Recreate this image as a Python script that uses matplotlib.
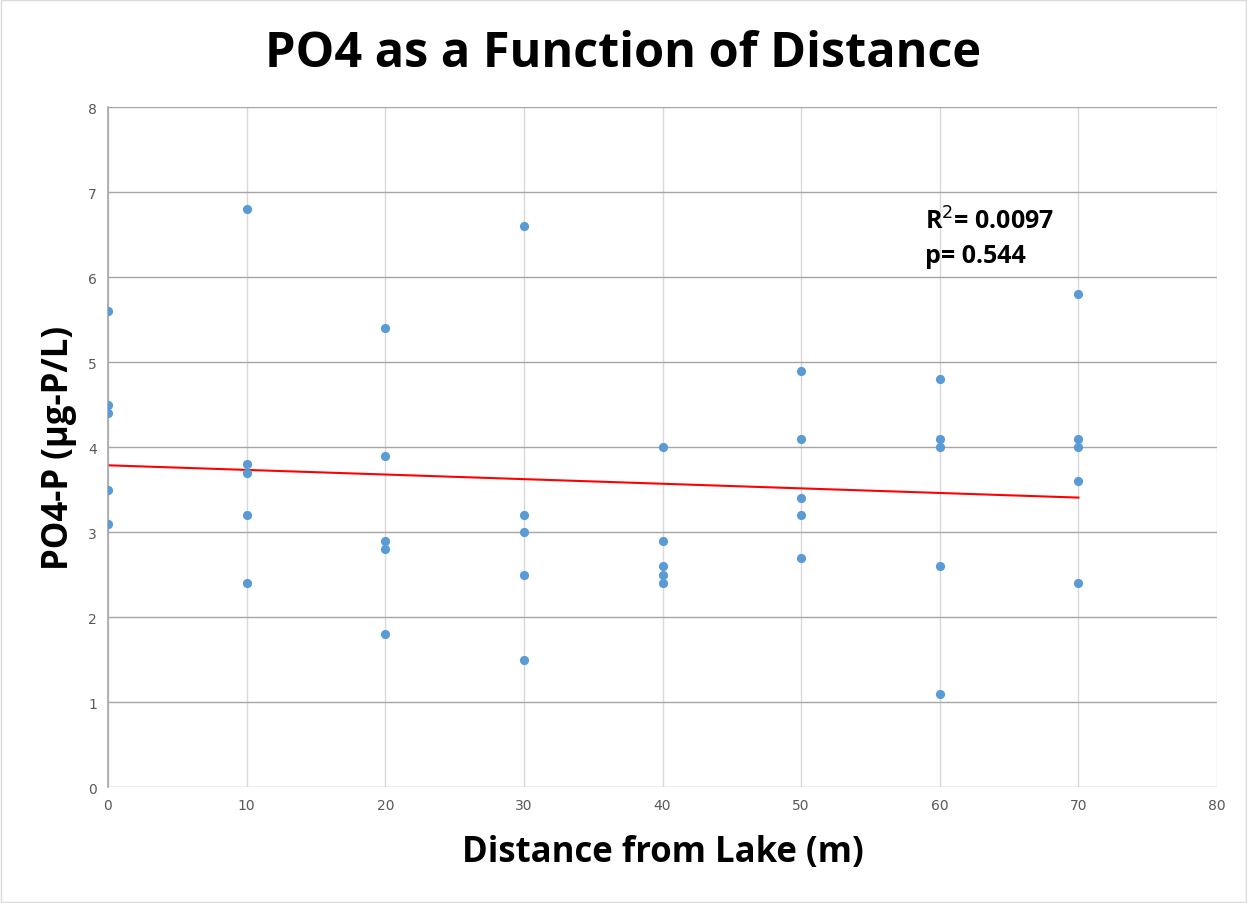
import matplotlib.pyplot as plt
import numpy as np

# distance from lake (m), five samples per site
distance = [0]*5 + [10]*5 + [20]*5 + [30]*5 + [40]*5 + [50]*5 + [60]*5 + [70]*5
po4 = [5.6, 4.5, 4.4, 3.5, 3.1,
       6.8, 3.8, 3.7, 3.2, 2.4,
       5.4, 3.9, 2.9, 2.8, 1.8,
       6.6, 3.2, 3.0, 2.5, 1.5,
       4.0, 2.9, 2.6, 2.5, 2.4,
       4.9, 4.1, 3.4, 3.2, 2.7,
       4.8, 4.1, 4.0, 2.6, 1.1,
       5.8, 4.1, 4.0, 3.6, 2.4]
x_ticks = np.arange(0, 81, 10)
y_ticks = np.arange(0, 9, 1)

fit = np.polyfit(distance, po4, 1)
fit_fn = np.poly1d(fit)
xfit = np.array([0, 70])

fig = plt.figure(figsize=(12.47, 9.04), dpi=100)
ax = fig.add_axes([0.0866, 0.1283, 0.8894, 0.7522])

ax.scatter(distance, po4, s=44, color='#5b9bd5', zorder=3, linewidths=0)
ax.plot(xfit, fit_fn(xfit), color='#ff0000', lw=1.5, zorder=2)

ax.set_xlim(0, 80)
ax.set_ylim(0, 8)
ax.set_xticks(x_ticks)
ax.set_yticks(y_ticks)
ax.tick_params(length=0, labelsize=10, labelcolor='#595959', pad=8)

ax.yaxis.grid(True, color='#a6a6a6', lw=1.0)
ax.xaxis.grid(True, color='#d9d9d9', lw=1.0)
ax.set_axisbelow(True)
for s in ['top', 'right', 'bottom']:
    ax.spines[s].set_visible(False)
ax.spines['left'].set_color('#a6a6a6')
ax.spines['left'].set_linewidth(1.2)

fig.suptitle('PO4 as a Function of Distance', fontsize=35, fontweight='bold',
             family='Open Sans', y=0.967)
ax.set_xlabel('Distance from Lake (m)', fontsize=25, fontweight='bold',
              family='Open Sans', labelpad=16)
ax.set_ylabel('PO4-P (µg-P/L)', fontsize=25, fontweight='bold',
              family='Open Sans', labelpad=8)

ax.text(58.9, 6.66, 'R$^{2}$= 0.0097', fontsize=18, fontweight='bold',
        family='Open Sans', va='center')
ax.text(58.9, 6.25, 'p= 0.544', fontsize=18, fontweight='bold',
        family='Open Sans', va='center')

fig.patches.append(plt.Rectangle((0.001, 0.001), 0.998, 0.998, transform=fig.transFigure,
                                 fill=False, edgecolor='#d9d9d9', lw=1))

fig.savefig('out.png', dpi=100)
